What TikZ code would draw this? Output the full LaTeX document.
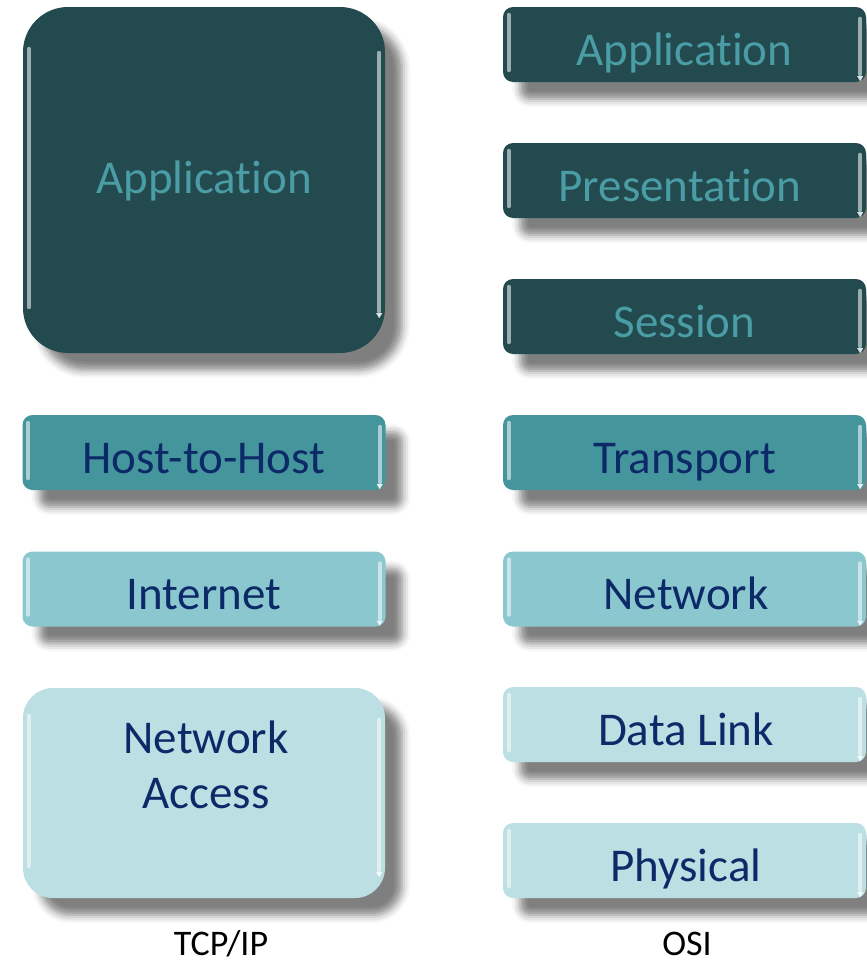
\documentclass[tikz,border=0pt]{standalone}
\usepackage{fontspec}
\setmainfont{Carlito}[Ligatures={NoCommon}]
\usetikzlibrary{shadows.blur,calc}

\definecolor{deepteal}{HTML}{234B4F}
\definecolor{midteal}{HTML}{45959D}
\definecolor{softteal}{HTML}{8BC7CF}
\definecolor{paleteal}{HTML}{BBDFE2}
\definecolor{deeptext}{HTML}{4A9CA5}
\definecolor{navytext}{HTML}{0D2A68}

\tikzset{
  layer/.style={draw=none, rounded corners=10pt, inner sep=0pt,
    blur shadow={shadow xshift=17pt, shadow yshift=-17pt,
                 shadow blur radius=8pt, shadow opacity=50}},
  tier1/.style={layer, fill=deepteal},
  tier2/.style={layer, fill=midteal},
  tier3/.style={layer, fill=softteal},
  tier4/.style={layer, fill=paleteal},
  slim/.style={minimum width=363pt, minimum height=75pt},
  lbl/.style={anchor=base, inner sep=0pt, font=\fontsize{47}{55}\selectfont},
  onDeep/.style={lbl, text=deeptext},
  onLight/.style={lbl, text=navytext},
  caption/.style={anchor=base, inner sep=0pt, font=\fontsize{36}{43}\selectfont, text=black},
  glint/.style={line width=4pt, line cap=round, white, opacity=0.55},
}

% glossy light strips along the left and right edges of a box
\newcommand\glossbox[2]{%
  \draw[glint] ($(#1.north west)+(6,#2)$) -- ($(#1.south west)+(6,-#2-4)$);
  \draw[glint] ($(#1.north east)+(-6,#2+4)$) -- ($(#1.south east)+(-6,-#2)$);
  \fill[white, opacity=0.85] ($(#1.south east)+(-9,-#2+2)$) -- ($(#1.south east)+(-3,-#2+2)$)
        -- ($(#1.south east)+(-6,-#2+7)$) -- cycle;
}

\begin{document}
\begin{tikzpicture}[x=1pt, y=-1pt]
\useasboundingbox (0,0) rectangle (867,964);

% TCP/IP stack
\node[tier1, rounded corners=45pt, minimum width=362pt, minimum height=346pt] (tapp) at (204,180) {};
\node[tier2, slim] (thost) at (204,452.5) {};
\node[tier3, slim] (tnet) at (204,589) {};
\node[tier4, rounded corners=30pt, minimum width=362pt, minimum height=210pt] (tacc) at (204,793) {};

% OSI stack
\node[tier1, slim] (oapp)  at (684.5,44.5) {};
\node[tier1, slim] (opres) at (684.5,180.5) {};
\node[tier1, slim] (osess) at (684.5,316.5) {};
\node[tier2, slim] (otrans) at (684.5,452.5) {};
\node[tier3, slim] (onet)  at (684.5,589) {};
\node[tier4, slim] (olink) at (684.5,724.5) {};
\node[tier4, slim] (ophys) at (684.5,860.5) {};

% edge highlights
\glossbox{tapp}{42}
\glossbox{thost}{8}
\glossbox{tnet}{8}
\glossbox{tacc}{28}
\glossbox{oapp}{8}
\glossbox{opres}{8}
\glossbox{osess}{8}
\glossbox{otrans}{8}
\glossbox{onet}{8}
\glossbox{olink}{8}
\glossbox{ophys}{8}

% layer names
\node[onDeep] (tappT) at (204,193) {Application};
\node[onLight] (thostT) at (204,473) {Host-to-Host};
\node[onLight] (tnetT) at (204,609) {Internet};
\node[onLight] (taccT1) at (206,753) {Network};
\node[onLight] (taccT2) at (206,808) {Access};

\node[onDeep] (oappT) at (684.5,65) {Application};
\node[onDeep] (opresT) at (680,201) {Presentation};
\node[onDeep] (osessT) at (684.5,337) {Session};
\node[onLight] (otransT) at (684.5,473) {Transport};
\node[onLight] (onetT) at (686,609) {Network};
\node[onLight] (olinkT) at (686,745) {Data Link};
\node[onLight] (ophysT) at (686,881) {Physical};

% stack captions
\node[caption] (tcap) at (221,955) {TCP/IP};
\node[caption] (ocap) at (687,955) {OSI};
\end{tikzpicture}
\end{document}
